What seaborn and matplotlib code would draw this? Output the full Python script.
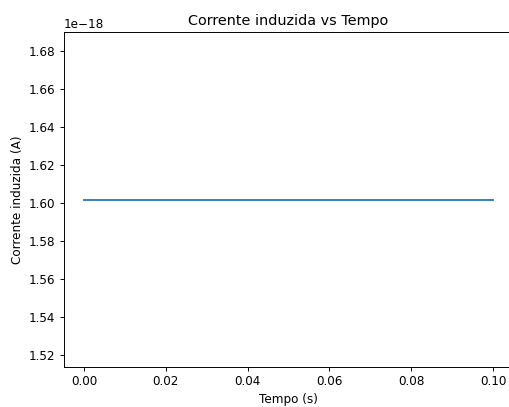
import matplotlib
matplotlib.use("Agg")
import matplotlib.pyplot as plt
import seaborn as sns
import pandas as pd

tempo = [0.0, 0.1]
corrente = [1.602e-18, 1.602e-18]

df = pd.DataFrame({"Tempo (s)": tempo, "Corrente induzida (A)": corrente})

DPI = 86.2
W, H = 509, 407
fig = plt.figure(figsize=(W / DPI, H / DPI), dpi=DPI)
ax = fig.add_axes([63.5 / W, 40 / H, 450 / W, 335 / H])
sns.lineplot(data=df, x="Tempo (s)", y="Corrente induzida (A)", ax=ax, color="#1f77b4")
ax.set_title("Corrente induzida vs Tempo")
ax.set_xlabel("Tempo (s)")
ax.set_ylabel("Corrente induzida (A)")
fig.savefig("out.png", dpi=DPI)
